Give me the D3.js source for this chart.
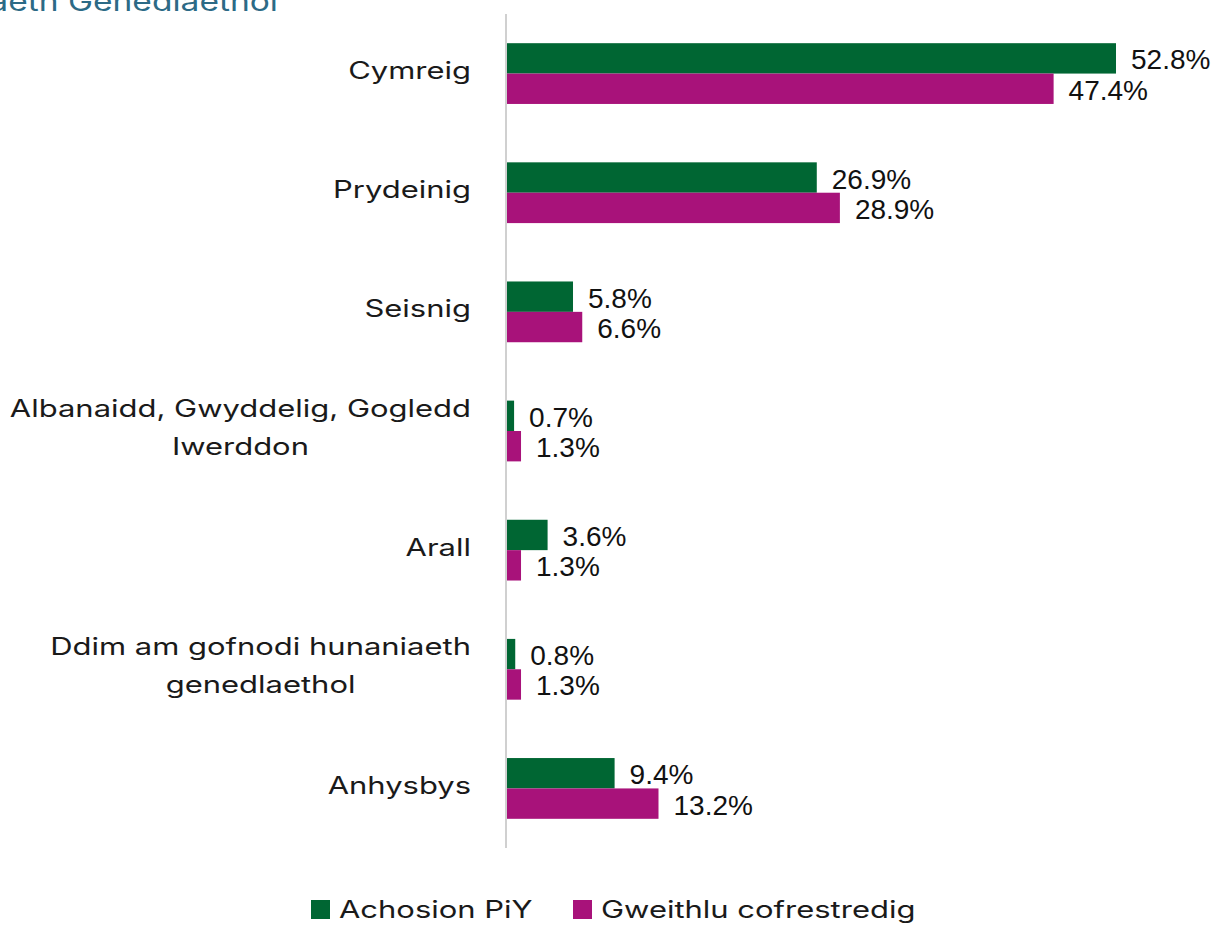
<!DOCTYPE html>
<html><head><meta charset="utf-8">
<script src="https://cdn.jsdelivr.net/npm/d3@7"></script>
<style>body{margin:0;background:#fff}svg{display:block}</style>
</head><body><svg id="c" width="1217" height="925"></svg>
<script>
const categories = [
  ["Cymreig"],
  ["Prydeinig"],
  ["Seisnig"],
  ["Albanaidd, Gwyddelig, Gogledd", "Iwerddon"],
  ["Arall"],
  ["Ddim am gofnodi hunaniaeth", "genedlaethol"],
  ["Anhysbys"]
];
const seriesNames = ["Achosion PiY", "Gweithlu cofrestredig"];
const achosion = [52.8, 26.9, 5.8, 0.7, 3.6, 0.8, 9.4];
const gweithlu = [47.4, 28.9, 6.6, 1.3, 1.3, 1.3, 13.2];
const colors = ["#006633", "#A8127A"];
const title = "Hunaniaeth Genedlaethol";

const WIDE = "Inter, 'Open Sans', sans-serif";
const STRETCH = 1.29;
function stretch(sel) {
  sel.each(function(){
    const w = this.getComputedTextLength();
    d3.select(this).attr("textLength", w * STRETCH).attr("lengthAdjust", "spacingAndGlyphs");
  });
  return sel;
}

const svg = d3.select("#c");
const x = d3.scaleLinear().domain([0, 52.8]).range([506, 1116]);
const y = d3.scaleBand().domain(d3.range(categories.length)).range([14, 848]).paddingInner(0.49).paddingOuter(0.245);
const sub = d3.scaleBand().domain([0,1]).range([0, y.bandwidth()]);

stretch(svg.append("text").attr("x", 278).attr("y", 11).attr("text-anchor","end")
  .attr("font-family", WIDE).attr("font-size", 26).attr("fill", "#2C6A86").text(title));

const series = [achosion, gweithlu];
series.forEach((vals, si) => {
  svg.append("g").selectAll("rect").data(vals).join("rect")
    .attr("x", x(0)).attr("y", (d,i) => y(i) + sub(si))
    .attr("width", d => x(d) - x(0)).attr("height", sub.bandwidth())
    .attr("fill", colors[si]);
  svg.append("g").selectAll("text").data(vals).join("text")
    .attr("x", d => x(d) + 15).attr("y", (d,i) => y(i) + sub(si) + sub.bandwidth()/2 + 11)
    .attr("font-family", "'Liberation Sans', Arial, sans-serif")
    .attr("font-size", 28).attr("fill", "#111").text(d => d.toFixed(1) + "%");
});

svg.append("line").attr("x1", 506).attr("x2", 506).attr("y1", 14).attr("y2", 848)
  .attr("stroke", "#d0d0d0").attr("stroke-width", 2);

// category labels
categories.forEach((lines, i) => {
  const cy = y(i) + y.bandwidth()/2;
  const lh = 38;
  if (lines.length === 1) {
    stretch(svg.append("text").attr("x", 471).attr("y", cy + 5.5).attr("text-anchor","end")
      .attr("font-family", WIDE).attr("font-size", 24).attr("fill", "#1a1a1a").text(lines[0]));
  } else {
    const ts = lines.map((l, k) => stretch(svg.append("text")
      .attr("y", cy + 5 + (k - (lines.length-1)/2)*lh)
      .attr("font-family", WIDE).attr("font-size", 24).attr("fill", "#1a1a1a")
      .attr("text-anchor", "middle").text(l)));
    const w = d3.max(ts, t => +t.attr("textLength"));
    ts.forEach(t => t.attr("x", 471 - w/2));
  }
});

// legend
const legendX = [311, 573];
seriesNames.forEach((n, i) => {
  svg.append("rect").attr("x", legendX[i]).attr("y", 900).attr("width", 19).attr("height", 19).attr("fill", colors[i]);
  stretch(svg.append("text").attr("x", legendX[i] + 28).attr("y", 918)
    .attr("font-family", WIDE).attr("font-size", 24).attr("fill", "#1a1a1a").text(n));
});
</script></body></html>
